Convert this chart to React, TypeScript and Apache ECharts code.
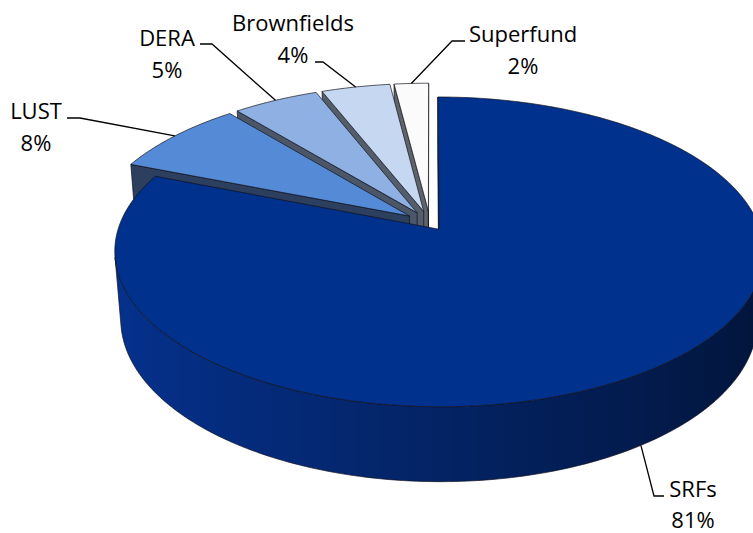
import React, { useEffect, useRef } from "react";
import * as echarts from "echarts";

// ---- data ----
const categories = ["SRFs", "LUST", "DERA", "Brownfields", "Superfund"];
const shares = [81, 8, 5, 4, 2];
const percentLabels = ["81%", "8%", "5%", "4%", "2%"];

// ---- style ----
const topColors = ["#00318c", "#558bd6", "#8eb0e2", "#c6d8f1", "#fbfbfb"];
const wallColors = ["#05328f", "#2d3f5f", "#4b5669", "#535d6c", "#5f636a"];
const explodeBy = [0.05, 0.08, 0.08, 0.08, 0.08];
const EDGE = "rgba(15,15,25,0.85)";
const FONT = '22px "Open Sans", sans-serif';
// label layout: centre x, line middles, elbow and end of leader
const labelLayout = [
  { x: 693, y: [488, 519], elbow: [654, 496], end: [664, 496], bottom: true },
  { x: 36, y: [110, 142], elbow: [80, 118], end: [67, 118], bottom: false },
  { x: 167, y: [37, 69], elbow: [212, 44], end: [200, 44], bottom: false },
  { x: 293, y: [22, 54], elbow: [323, 62], end: [315, 62], bottom: false },
  { x: 523, y: [33, 65], elbow: [452, 41], end: [465, 41], bottom: false },
];

// ---- projection ----
const DEG = Math.PI / 180;
const CX = 430, CY = 223;
const ELEV = 28 * DEG;
const SE = Math.sin(ELEV), CE = Math.cos(ELEV);
const DIST = 6.08;
const FOCAL = 1939.5;
const THICK = 0.243;
const CAM = [0, DIST * SE, DIST * CE];

type V3 = number[];
function proj(w: V3): number[] {
  const [X, Y, Z] = w;
  const yc = Y * CE - Z * SE;
  const zc = Z * CE + Y * SE;
  const k = FOCAL / (DIST - zc);
  return [CX + k * X, CY - k * yc];
}
function camDist(w: V3) {
  return Math.hypot(w[0] - CAM[0], w[1] - CAM[1], w[2] - CAM[2]);
}
function facing(w: V3, n: V3) {
  return n[0] * (CAM[0] - w[0]) + n[1] * (CAM[1] - w[1]) + n[2] * (CAM[2] - w[2]) > 0;
}
function zOf(w: V3) {
  return Math.round((20 - camDist(w)) * 100);
}

const total = shares.reduce((a, b) => a + b, 0);
let cumAcc = 0;
const slices = shares.map((v, i) => {
  const a1 = 90 - (cumAcc / total) * 360;
  cumAcc += v;
  const a2 = 90 - (cumAcc / total) * 360;
  const mid = (a1 + a2) / 2;
  const d = explodeBy[i];
  return { a1, a2, mid, sx: d * Math.cos(mid * DEG), sz: -d * Math.sin(mid * DEG) };
});

function pt(s: any, r: number, tDeg: number, Y: number): V3 {
  const t = tDeg * DEG;
  return [s.sx + r * Math.cos(t), Y, s.sz - r * Math.sin(t)];
}

function hexToRgb(h: string) {
  const n = parseInt(h.slice(1), 16);
  return [(n >> 16) & 255, (n >> 8) & 255, n & 255];
}
function shadeWall(base: string, tDeg: number) {
  const f = 0.7 - 0.3 * Math.cos(tDeg * DEG);
  const [r, g, b] = hexToRgb(base);
  return `rgb(${Math.round(r * f)},${Math.round(g * f)},${Math.round(b * f)})`;
}

function buildSlice(i: number, value: number) {
  const s = slices[i];
  const els: any[] = [];
  // radial walls
  const walls: number[][] = [
    [s.a1, s.a1 + 90],
    [s.a2, s.a2 - 90],
  ];
  for (const [a, na] of walls) {
    const n = [Math.cos(na * DEG), 0, -Math.sin(na * DEG)];
    const c = pt(s, 0.5, a, -THICK / 2);
    if (!facing(c, n)) continue;
    const pts = [pt(s, 0, a, 0), pt(s, 1, a, 0), pt(s, 1, a, -THICK), pt(s, 0, a, -THICK)].map(proj);
    els.push({
      type: "polygon",
      z2: zOf(c),
      shape: { points: pts },
      style: { fill: wallColors[i], stroke: EDGE, lineWidth: 0.8 },
    });
  }
  // outer wall (visible runs)
  const span = s.a1 - s.a2;
  const N = Math.max(2, Math.ceil(span));
  const ts: number[] = [];
  for (let k = 0; k <= N; k++) ts.push(s.a2 + (span * k) / N);
  const runs: number[][] = [];
  let cur: number[] = [];
  for (let k = 0; k < N; k++) {
    const tm = (ts[k] + ts[k + 1]) / 2;
    const n = [Math.cos(tm * DEG), 0, -Math.sin(tm * DEG)];
    const vis = facing(pt(s, 1, tm, -THICK / 2), n);
    if (vis) {
      if (cur.length === 0) cur.push(ts[k]);
      cur.push(ts[k + 1]);
    } else if (cur.length) {
      runs.push(cur);
      cur = [];
    }
  }
  if (cur.length) runs.push(cur);
  for (const run of runs) {
    const top = run.map((t) => proj(pt(s, 1, t, 0)));
    const bot = run.map((t) => proj(pt(s, 1, t, -THICK)));
    const pts = top.concat(bot.slice().reverse());
    const xs = pts.map((p) => p[0]);
    const minX = Math.min(...xs), maxX = Math.max(...xs);
    const stops = run
      .map((t, k) => ({ offset: Math.min(1, Math.max(0, (top[k][0] - minX) / (maxX - minX || 1))), color: shadeWall(wallColors[i], t) }))
      .sort((a, b) => a.offset - b.offset);
    const midT = run[Math.floor(run.length / 2)];
    els.push({
      type: "polygon",
      z2: zOf(pt(s, 1, midT, -THICK / 2)),
      shape: { points: pts },
      style: { fill: new echarts.graphic.LinearGradient(0, 0, 1, 0, stops), stroke: EDGE, lineWidth: 0.8 },
    });
  }
  // top face
  const topPts = [proj(pt(s, 0, 0, 0))];
  for (let k = 0; k <= N; k++) topPts.push(proj(pt(s, 1, s.a1 - (span * k) / N, 0)));
  els.push({
    type: "polygon",
    z2: 5000 + i,
    shape: { points: topPts },
    style: { fill: topColors[i], stroke: EDGE, lineWidth: 0.8 },
  });
  // label
  const L = labelLayout[i];
  const anchor = proj(L.bottom ? pt(s, 1, s.mid, -THICK) : pt(s, 1, s.mid, 0));
  els.push({
    type: "polyline",
    z2: 6000,
    shape: { points: [anchor, L.elbow, L.end] },
    style: { stroke: "#000", lineWidth: 1.3, fill: "none" },
  });
  els.push({
    type: "text",
    z2: 6001,
    style: { text: categories[i], x: L.x, y: L.y[0], fill: "#000", font: FONT, align: "center", verticalAlign: "middle" },
  });
  els.push({
    type: "text",
    z2: 6001,
    style: { text: percentLabels[i], x: L.x, y: L.y[1], fill: "#000", font: FONT, align: "center", verticalAlign: "middle" },
  });
  return { type: "group", children: els };
}

export default function App() {
  const ref = useRef<HTMLDivElement>(null);
  useEffect(() => {
    if (!ref.current) return;
    const chart = echarts.init(ref.current, undefined, { renderer: "svg" });
    chart.setOption({
      animation: false,
      backgroundColor: "#ffffff",
      series: [
        {
          type: "custom",
          coordinateSystem: "none",
          silent: true,
          data: shares.map((v, i) => [v, i]),
          renderItem: (params: any, api: any) => buildSlice(params.dataIndex, api.value(0)),
        },
      ],
    });
    return () => chart.dispose();
  }, []);
  return (
    <div
      ref={ref}
      style={{ position: "absolute", left: 0, top: 0, width: 753, height: 533, background: "#fff" }}
    />
  );
}
